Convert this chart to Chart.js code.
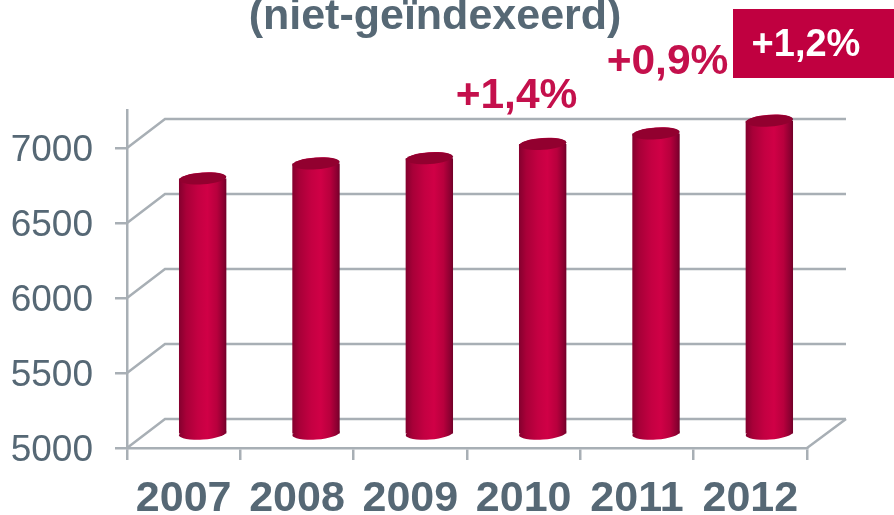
<!DOCTYPE html>
<html><head><meta charset="utf-8">
<style>html,body{margin:0;padding:0;background:#fff}canvas{display:block}</style>
<script src="https://cdn.jsdelivr.net/npm/chart.js@4"></script></head>
<body><canvas id="c" width="894" height="515"></canvas>
<script>
const years = ['2007','2008','2009','2010','2011','2012'];
const values = [6700,6800,6835,6930,7000,7085];
const yTicks = [5000,5500,6000,6500,7000];
const titleText = '(niet-geïndexeerd)';
const changes = ['+1,4%','+0,9%','+1,2%'];

const GRID='#a8afb5', TEXT='#566875', RED='#c00040';
const DX=38, DY=29, FONT='"Liberation Sans", Arial, sans-serif';

function barGradient(ctx,x,w){
  const g=ctx.createLinearGradient(x-w/2,0,x+w/2,0);
  g.addColorStop(0,'#84002e');g.addColorStop(.15,'#a80038');g.addColorStop(.4,'#c40042');
  g.addColorStop(.6,'#d00046');g.addColorStop(.8,'#b8003d');g.addColorStop(.95,'#880030');g.addColorStop(1,'#700028');
  return g;
}
const depth={
  id:'depth',
  beforeDatasetsDraw(chart){
    const {ctx,chartArea:a,scales:{y}}=chart;
    ctx.save();ctx.strokeStyle=GRID;ctx.lineWidth=2.5;
    yTicks.forEach(v=>{
      const p=y.getPixelForValue(v);
      ctx.beginPath();ctx.moveTo(a.left,p);ctx.lineTo(a.left+DX,p-DY);ctx.lineTo(a.right+DX+1,p-DY);ctx.stroke();
    });
    const b=y.getPixelForValue(5000);
    ctx.beginPath();ctx.moveTo(a.right,b);ctx.lineTo(a.right+DX+1,b-DY);ctx.stroke();
    ctx.restore();
  },
  beforeDatasetDraw(chart){
    const {ctx}=chart;ctx.save();ctx.translate(DX/2,-DY/2);
  },
  afterDatasetDraw(chart){
    const {ctx}=chart;
    chart.getDatasetMeta(0).data.forEach(el=>{
      const base=chart.scales.y.getPixelForValue(5000);
      ctx.fillStyle=barGradient(ctx,el.x,el.width);
      ctx.beginPath();ctx.ellipse(el.x,base,el.width/2,6,-0.07,0,Math.PI*2);ctx.fill();
      ctx.beginPath();ctx.ellipse(el.x,el.y,el.width/2,6,-0.07,0,Math.PI*2);ctx.fill();
      ctx.fillStyle='#92002f';
      ctx.beginPath();ctx.ellipse(el.x,el.y,el.width/2-.5,5.8,-0.07,0,Math.PI*2);ctx.fill();
    });
    ctx.restore();
  },
  afterDraw(chart){
    const {ctx}=chart;ctx.save();
    ctx.textBaseline='alphabetic';ctx.textAlign='center';
    ctx.font='bold 43px '+FONT;ctx.fillStyle=TEXT;
    ctx.fillText(titleText,435,29);
    ctx.fillStyle=RED;ctx.fillRect(733,9,161,69);
    ctx.font='bold 42.5px '+FONT;ctx.fillStyle='#c4104c';
    ctx.fillText(changes[0],516.5,108);
    ctx.fillText(changes[1],667.5,74);
    ctx.font='bold 38px '+FONT;ctx.fillStyle='#fff';
    ctx.fillText(changes[2],806,56);
    ctx.restore();
  }
};
new Chart(document.getElementById('c'),{
  type:'bar',
  data:{labels:years,datasets:[{data:values,borderWidth:0,
    backgroundColor(c){
      const x=c.chart.scales.x;
      if(!x||c.dataIndex===undefined)return RED;
      const p=x.getPixelForValue(c.dataIndex),cw=x.getPixelForValue(1)-x.getPixelForValue(0);
      if(!isFinite(p)||!isFinite(cw))return RED;
      return barGradient(c.chart.ctx,p,cw*.418);
    },
    barPercentage:.418,categoryPercentage:1}]},
  options:{
    responsive:false,animation:false,
    layout:{padding:{left:0,top:110,right:87,bottom:0}},
    plugins:{legend:{display:false},title:{display:false},tooltip:{enabled:false}},
    scales:{
      x:{
        afterFit(s){s.height=67},
        grid:{drawOnChartArea:false,offset:true,color:GRID,lineWidth:2.5,tickLength:12},
        border:{color:GRID,width:2.5},
        ticks:{color:TEXT,font:{family:FONT,size:43,weight:'bold'},padding:13,maxRotation:0,autoSkip:false}
      },
      y:{
        min:5000,max:7253,
        afterFit(s){s.width=127},
        afterBuildTicks(s){s.ticks=yTicks.map(v=>({value:v}))},
        grid:{drawOnChartArea:false,color:GRID,lineWidth:2.5,tickLength:12},
        border:{color:GRID,width:2.5},
        ticks:{color:TEXT,font:{family:FONT,size:37},padding:22,labelOffset:3,callback:v=>String(v)}
      }
    }
  },
  plugins:[depth]
});
</script></body></html>
